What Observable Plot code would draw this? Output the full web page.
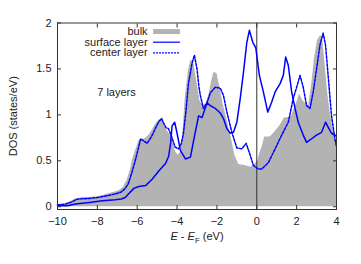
<!DOCTYPE html>
<html><head><meta charset="utf-8">
<script src="https://cdn.jsdelivr.net/npm/d3@7"></script>
<script src="https://cdn.jsdelivr.net/npm/@observablehq/plot@0.6"></script>
<style>html,body{margin:0;padding:0;background:#fff}</style>
</head><body><div id="chart"></div>
<script>
// ---- data ----
const bulkE   = [-10,-9.7,-9.4,-9.1,-8.7,-8.4,-8.0,-7.75,-7.4,-7.1,-6.9,-6.7,-6.6,-6.5,-6.33,-6.25,-6.1,-5.9,-5.6,-5.4,-5.25,-5.1,-4.93,-4.75,-4.6,-4.5,-4.35,-4.25,-4.1,-3.95,-3.8,-3.72,-3.6,-3.43,-3.3,-3.15,-3.0,-2.85,-2.7,-2.55,-2.4,-2.25,-2.15,-2.0,-1.85,-1.7,-1.5,-1.3,-1.1,-0.9,-0.6,-0.3,-0.1,0.05,0.15,0.27,0.4,0.67,0.9,1.15,1.4,1.6,1.75,1.9,2.0,2.15,2.3,2.45,2.6,2.75,2.9,3.05,3.2,3.3,3.4,3.55,3.7,3.85,4.0];
const bulkDOS = [0.01,0.02,0.05,0.085,0.1,0.1,0.11,0.12,0.145,0.16,0.175,0.21,0.25,0.29,0.41,0.5,0.6,0.72,0.74,0.78,0.83,0.89,0.94,0.96,0.9,0.83,0.78,0.75,0.61,0.56,0.6,0.75,1.16,1.48,1.6,1.55,1.35,1.15,1.1,1.12,1.22,1.38,1.46,1.45,1.3,1.13,0.95,0.77,0.56,0.46,0.45,0.43,0.46,0.5,0.58,0.65,0.76,0.76,0.81,0.88,0.97,0.97,0.99,1.08,1.13,1.23,1.16,1.12,1.1,1.32,1.62,1.81,1.86,1.83,1.62,1.25,1.0,0.82,0.65];

const surfaceE   = [-10,-9.5,-9.1,-8.4,-7.75,-7.1,-6.8,-6.6,-6.45,-6.17,-5.92,-5.58,-5.25,-4.92,-4.58,-4.42,-4.32,-4.25,-4.12,-4.0,-3.83,-3.58,-3.33,-3.17,-2.92,-2.75,-2.5,-2.33,-2.08,-1.83,-1.67,-1.5,-1.33,-1.17,-1.0,-0.83,-0.67,-0.5,-0.37,-0.2,-0.05,0.13,0.33,0.55,0.75,0.92,1.17,1.33,1.45,1.58,1.75,1.92,2.08,2.33,2.5,2.75,3.0,3.25,3.45,3.62,3.75,4.0];
const surfaceDOS = [0.01,0.012,0.03,0.047,0.065,0.075,0.085,0.1,0.135,0.2,0.22,0.23,0.3,0.39,0.47,0.55,0.7,0.88,0.92,0.8,0.61,0.52,0.54,0.72,0.99,0.97,1.13,1.1,1.07,1.02,0.96,0.85,0.8,0.81,0.92,1.18,1.46,1.79,1.92,1.79,1.73,1.43,1.25,1.03,1.14,1.25,1.34,1.43,1.63,1.54,1.25,1.07,0.92,0.78,0.7,0.74,0.78,0.81,0.92,0.85,0.8,0.77];

const centerE   = [-10,-9.6,-9.3,-9.1,-8.9,-8.5,-8.0,-7.5,-7.1,-6.8,-6.6,-6.45,-6.3,-6.1,-5.95,-5.83,-5.7,-5.5,-5.35,-5.2,-5.05,-4.93,-4.78,-4.65,-4.55,-4.43,-4.25,-4.1,-3.93,-3.8,-3.68,-3.55,-3.43,-3.25,-3.13,-3.0,-2.9,-2.83,-2.68,-2.5,-2.33,-2.08,-1.83,-1.67,-1.5,-1.25,-1.0,-0.75,-0.53,-0.33,-0.17,0.07,0.25,0.58,0.92,1.25,1.58,1.83,2.0,2.17,2.33,2.5,2.67,2.83,3.0,3.17,3.33,3.45,3.58,3.75,3.92,4.0];
const centerDOS = [0.02,0.03,0.05,0.075,0.085,0.09,0.1,0.12,0.14,0.16,0.2,0.25,0.35,0.5,0.63,0.74,0.72,0.69,0.74,0.8,0.87,0.92,0.96,0.9,0.86,0.85,0.75,0.65,0.63,0.68,0.8,1.05,1.34,1.56,1.65,1.5,1.3,1.21,1.07,1.13,1.24,1.3,1.29,1.21,1.03,0.81,0.64,0.63,0.69,0.56,0.45,0.41,0.41,0.48,0.63,0.78,0.92,1.18,1.3,1.43,1.3,1.1,1.07,1.25,1.5,1.76,1.89,1.76,1.43,0.99,0.74,0.65];

const xTicks = [-10,-8,-6,-4,-2,0,2,4];
const yTicks = [0,0.5,1,1.5,2];
const legendLabels = ["bulk","surface layer","center layer"];
const annotation = "7 layers";
const xLabel = "E - EF (eV)";
const yLabel = "DOS (states/eV)";

// ---- build tables ----
const toRows = (E, D) => E.map((x, i) => ({x, y: D[i]}));
const bulk = toRows(bulkE, bulkDOS);
const surface = toRows(surfaceE, surfaceDOS);
const center = toRows(centerE, centerDOS);

const BLUE = "#0000ff", GRAY = "#b3b3b3", INK = "#333";
const DASH = "2.5,1.5";
const font = "'Liberation Sans', Arial, Helvetica, sans-serif";

// legend placement (in data units of the plot)
const legX0 = -5.48, legSw1 = -5.18, legSw2 = -3.83;
const legY = i => 1.907 - i * 0.116;
const legStyles = [
  {stroke: GRAY, strokeWidth: 5},
  {stroke: BLUE, strokeWidth: 1.2},
  {stroke: BLUE, strokeWidth: 1.2, strokeDasharray: "2,1"}
];

const legendMarks = legendLabels.flatMap((lab, i) => [
  Plot.text([lab], {x: legX0, y: legY(i), text: d => d, textAnchor: "end", fontSize: 11, fill: "#222"}),
  Plot.ruleY([legY(i)], {x1: legSw1, x2: legSw2, ...legStyles[i]})
]);

const chart = Plot.plot({
  width: 361, height: 264,
  marginLeft: 57, marginRight: 25, marginTop: 22.5, marginBottom: 55,
  style: {fontFamily: font, fontSize: "11px", color: "#222", background: "white"},
  x: {domain: [-10, 4]},
  y: {domain: [-0.03, 2]},
  marks: [
    Plot.areaY(bulk, {x: "x", y: "y", fill: GRAY}),
    Plot.ruleX([0], {stroke: INK, strokeWidth: 1}),
    Plot.lineY(center, {x: "x", y: "y", stroke: BLUE, strokeWidth: 1.5, strokeDasharray: DASH}),
    Plot.lineY(surface, {x: "x", y: "y", stroke: BLUE, strokeWidth: 1.5}),
    ...legendMarks,
    Plot.text([annotation], {x: -7.04, y: 1.243, text: d => d, fontSize: 11, fill: "#222"}),
    Plot.frame({stroke: INK, strokeWidth: 1}),
    Plot.axisX(xTicks, {anchor: "bottom", tickSize: 0, tickPadding: 8, label: xLabel, labelAnchor: "center", labelOffset: 30, labelArrow: "none"}),
    Plot.axisX(xTicks, {anchor: "bottom", tickSize: -4, text: null, label: null, stroke: INK}),
    Plot.axisX(xTicks, {anchor: "top", tickSize: -4, text: null, label: null, stroke: INK}),
    Plot.axisY(yTicks, {anchor: "left", tickSize: 0, tickPadding: 6, label: yLabel, labelAnchor: "center", labelOffset: 48, labelArrow: "none", tickFormat: d => String(d)}),
    Plot.axisY(yTicks, {anchor: "left", tickSize: -4, text: null, label: null, stroke: INK}),
    Plot.axisY(yTicks, {anchor: "right", tickSize: -4, text: null, label: null, stroke: INK})
  ]
});

// italic E and subscript F in the x label
const lab = chart.querySelector('g[aria-label="x-axis label"] text');
if (lab) {
  const NS = "http://www.w3.org/2000/svg";
  lab.textContent = "";
  const parts = [
    {t: "E", italic: true},
    {t: " - "},
    {t: "E", italic: true},
    {t: "F", sub: true},
    {t: " (eV)", unsub: true}
  ];
  for (const p of parts) {
    const ts = document.createElementNS(NS, "tspan");
    ts.textContent = p.t;
    if (p.italic) ts.setAttribute("font-style", "italic");
    if (p.sub) { ts.setAttribute("dy", "3"); ts.setAttribute("font-size", "8"); }
    if (p.unsub) ts.setAttribute("dy", "-3");
    lab.appendChild(ts);
  }
}
document.getElementById("chart").appendChild(chart);
</script>
</body></html>
